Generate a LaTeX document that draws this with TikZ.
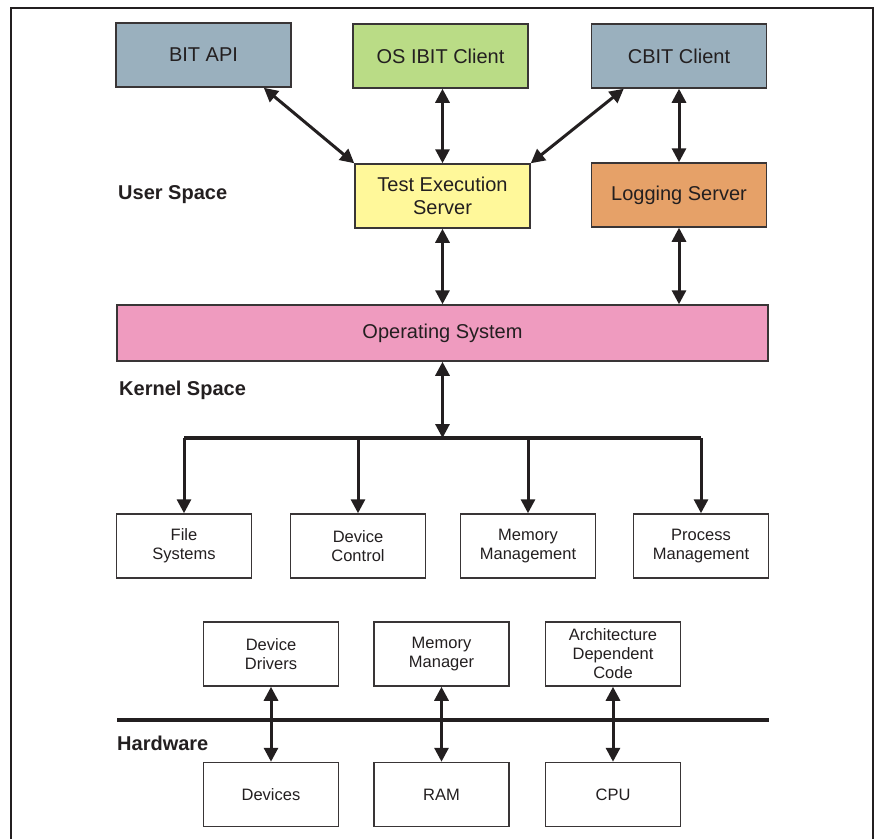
\documentclass[tikz,border=0pt]{standalone}
\usepackage{fontspec}
\setmainfont{Liberation Sans}
\usetikzlibrary{arrows.meta}
\definecolor{ink}{HTML}{231F20}
\definecolor{bluegray}{HTML}{9AB0BE}
\definecolor{lgreen}{HTML}{BADC86}
\definecolor{lyellow}{HTML}{FFF89A}
\definecolor{lorange}{HTML}{E6A168}
\definecolor{lpink}{HTML}{EF9BBF}
\tikzset{
  bigbox/.style={draw=ink!90, line width=1.5pt, minimum width=175pt, minimum height=64pt, inner sep=0pt, align=center, font=\fontsize{20}{22.5}\selectfont, text=ink},
  smallbox/.style={draw=ink!90, line width=1.5pt, fill=white, minimum width=135pt, minimum height=64pt, inner sep=0pt, align=center, font=\fontsize{16.5}{19}\selectfont, text=ink},
  region/.style={anchor=west, font=\bfseries\fontsize{20}{22}\selectfont, text=ink, inner sep=0pt},
  link/.style={draw=ink, line width=3pt, {Triangle[length=14pt,width=14pt]}-{Triangle[length=14pt,width=14pt]}},
  drop/.style={draw=ink, line width=3pt, -{Triangle[length=14pt,width=14pt]}},
  bus/.style={draw=ink, line width=3.2pt}
}
\begin{document}
\begin{tikzpicture}[x=1pt,y=-1pt]
\useasboundingbox (0,0) rectangle (877,839);
\fill[white] (0,0) rectangle (877,839);
% frame
\draw[ink, line width=2pt] (11,839) -- (11,8) -- (873,8) -- (873,839);

% user space
\node[bigbox, fill=bluegray] (bitapi) at (203.5,55) {BIT API};
\node[bigbox, fill=lgreen] (osibit) at (440.5,56) {OS IBIT Client};
\node[bigbox, fill=bluegray] (cbit) at (679,56) {CBIT Client};
\node[bigbox, fill=lyellow] (tes) at (442.5,196) {Test Execution\\Server};
\node[bigbox, fill=lorange] (log) at (679,195) {Logging Server};
\node[region] (us) at (118,195) {User Space};

% operating system
\node[draw=ink!90, line width=1.5pt, fill=lpink, minimum width=651pt, minimum height=56pt, inner sep=0pt, font=\fontsize{20}{22}\selectfont, text=ink] (os) at (442.5,333) {Operating System};
\node[region] (ks) at (119,390) {Kernel Space};

% kernel subsystems
\node[smallbox] (fs) at (184,546) {File\\Systems};
\node[smallbox] (dc) at (358,546) {Device\\Control};
\node[smallbox] (mm) at (528,546) {Memory\\Management};
\node[smallbox] (pm) at (701,546) {Process\\Management};

% hardware-facing
\node[smallbox] (dd) at (271,654) {Device\\Drivers};
\node[smallbox] (mmgr) at (441.5,654) {Memory\\Manager};
\node[smallbox] (adc) at (613,654) {Architecture\\Dependent\\Code};
\node[smallbox] (dev) at (271,794.5) {Devices};
\node[smallbox] (ram) at (441.5,794.5) {RAM};
\node[smallbox] (cpu) at (613,794.5) {CPU};
\node[region] (hw) at (117,743) {Hardware};

\coordinate (hwl) at (117,720);
\coordinate (hwr) at (769,720);
\draw[bus] (hwl) -- (hwr);

% user-space connectors
\draw[link] ([xshift=-28pt]bitapi.south east) -- (tes.north west);
\draw[link] (osibit.south -| tes.north) -- (tes.north);
\draw[link] (tes.north east) -- ([xshift=33pt]cbit.south west);
\draw[link] (cbit.south) -- (log.north);
\draw[link] (tes.south) -- (tes.south |- os.north);
\draw[link] (log.south) -- (log.south |- os.north);

% kernel bus
\coordinate (busc) at (442.5,438);
\draw[link] (os.south) -- (busc);
\draw[bus] (fs.north |- busc) -- (pm.north |- busc);
\draw[drop] (fs.north |- busc) -- (fs.north);
\draw[drop] (dc.north |- busc) -- (dc.north);
\draw[drop] (mm.north |- busc) -- (mm.north);
\draw[drop] (pm.north |- busc) -- (pm.north);

% hardware connectors
\draw[link] (dd.south) -- (dev.north);
\draw[link] (mmgr.south) -- (ram.north);
\draw[link] (adc.south) -- (cpu.north);
\end{tikzpicture}
\end{document}
